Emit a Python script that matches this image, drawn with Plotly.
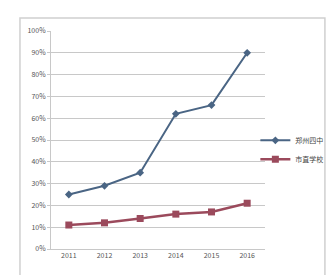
import plotly.graph_objects as go

years = ["2011", "2012", "2013", "2014", "2015", "2016"]
zz4 = [0.25, 0.29, 0.35, 0.62, 0.66, 0.90]
szxx = [0.11, 0.12, 0.14, 0.16, 0.17, 0.21]
names = ["郑州四中", "市直学校"]

fig = go.Figure()
fig.add_trace(go.Scatter(x=years, y=zz4, name=names[0], mode="lines+markers",
                         line=dict(color="#4a6584", width=2),
                         marker=dict(symbol="diamond", size=6, color="#4a6584")))
fig.add_trace(go.Scatter(x=years, y=szxx, name=names[1], mode="lines+markers",
                         line=dict(color="#9b4a5c", width=2.5),
                         marker=dict(symbol="square", size=7, color="#9b4a5c")))

fig.add_shape(type="rect", xref="paper", yref="paper", x0=-0.145, x1=1.28, y0=-0.3, y1=1.06,
              line=dict(color="#d0d0d0", width=1.5), fillcolor="rgba(0,0,0,0)", layer="below")

fig.update_layout(
    width=336, height=275,
    margin=dict(l=51, r=71, t=31, b=26, autoexpand=False),
    paper_bgcolor="white", plot_bgcolor="white",
    font=dict(family="Noto Sans CJK SC, DejaVu Sans", size=7, color="#555555"),
    showlegend=True,
    legend=dict(x=0.955, y=0.455, xanchor="left", yanchor="middle",
                font=dict(size=7, color="#444444"), itemwidth=30, tracegroupgap=2,
                bgcolor="rgba(0,0,0,0)"),
    xaxis=dict(type="category", range=[-0.5, 5.5], showgrid=False,
               showline=True, linecolor="#c8c8c8", ticks="", tickfont=dict(size=7),
               fixedrange=True),
    yaxis=dict(range=[0, 1.0], dtick=0.1, tickformat=".0%", showgrid=True,
               gridcolor="#c8c8c8", gridwidth=1, showline=True, linecolor="#c8c8c8",
               zeroline=False, ticks="outside", ticklen=3, tickcolor="#c8c8c8",
               tickfont=dict(size=7)),
)

fig.write_html("out.html")
